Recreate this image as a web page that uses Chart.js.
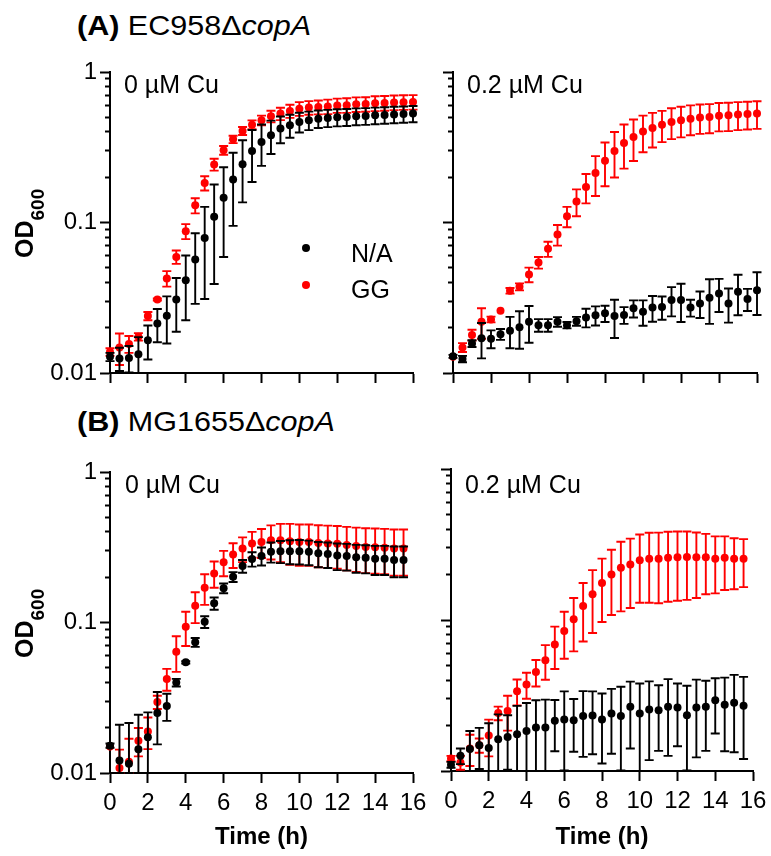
<!DOCTYPE html>
<html>
<head>
<meta charset="utf-8">
<script src="https://cdn.jsdelivr.net/npm/chart.js@4.4.1/dist/chart.umd.min.js"></script>
<style>
  html, body { margin: 0; padding: 0; background: #fff; }
  body { width: 771px; height: 856px; position: relative; overflow: hidden;
         font-family: "Liberation Sans", Arial, Helvetica, sans-serif; color: #000; }
  canvas { position: absolute; z-index: 1; }
  .txt { position: absolute; white-space: nowrap; line-height: 1; z-index: 2; }
  .title { font-size: 28px; transform: scaleX(1.09); transform-origin: 0 0; }
  .cond { font-size: 25px; }
  .ylab { font-size: 25px; font-weight: bold; transform: rotate(-90deg); transform-origin: 0 0; }
  .ylab .sub { font-size: 19px; vertical-align: -11px; }
  .dot { position: absolute; width: 8px; height: 8px; border-radius: 50%; z-index: 2; }
</style>
</head>
<body>

<div class="txt title" style="left:77px; top:11.5px;"><b>(A)</b> EC958Δ<i>copA</i></div>
<div class="txt title" style="left:77px; top:408px;"><b>(B)</b> MG1655Δ<i>copA</i></div>

<div class="txt ylab" style="left:12px; top:258px;">OD<span class="sub">600</span></div>
<div class="txt ylab" style="left:12px; top:658px;">OD<span class="sub">600</span></div>

<div class="txt cond" style="left:124px; top:72px;">0 µM Cu</div>
<div class="txt cond" style="left:467px; top:71.5px;">0.2 µM Cu</div>
<div class="txt cond" style="left:125px; top:472px;">0 µM Cu</div>
<div class="txt cond" style="left:465px; top:471.5px;">0.2 µM Cu</div>

<div id="legend"></div>

<canvas id="cA0"></canvas>
<canvas id="cA2"></canvas>
<canvas id="cB0"></canvas>
<canvas id="cB2"></canvas>

<script>
// time points (h)
const timesA = [0, 0.5, 1, 1.5, 2, 2.5, 3, 3.5, 4, 4.5, 5, 5.5, 6, 6.5, 7, 7.5, 8, 8.5, 9, 9.5, 10, 10.5, 11, 11.5, 12, 12.5, 13, 13.5, 14, 14.5, 15, 15.5, 16];
const timesB = [0, 0.5, 1, 1.5, 2, 2.5, 3, 3.5, 4, 4.5, 5, 5.5, 6, 6.5, 7, 7.5, 8, 8.5, 9, 9.5, 10, 10.5, 11, 11.5, 12, 12.5, 13, 13.5, 14, 14.5, 15, 15.5];

const seriesNames = ['N/A', 'GG'];
const seriesColors = ['#000000', '#ff0000'];

// (A) EC958 copA, 0 uM Cu
const ec0NA = [0.0128, 0.0125, 0.0126, 0.0133, 0.0165, 0.0213, 0.024, 0.0308, 0.0414, 0.0568, 0.079, 0.109, 0.146, 0.193, 0.244, 0.299, 0.343, 0.380, 0.421, 0.443, 0.466, 0.478, 0.490, 0.495, 0.500, 0.503, 0.508, 0.510, 0.515, 0.518, 0.522, 0.525, 0.529];
const ec0NAsd = [0.0008, 0.0022, 0.0025, 0.004, 0.0042, 0.0053, 0.0083, 0.012, 0.019, 0.028, 0.048, 0.07, 0.087, 0.098, 0.108, 0.113, 0.105, 0.095, 0.085, 0.077, 0.07, 0.067, 0.065, 0.065, 0.065, 0.065, 0.065, 0.065, 0.065, 0.065, 0.065, 0.065, 0.065];
const ec0GG = [0.0138, 0.0148, 0.0156, 0.0174, 0.0239, 0.0308, 0.0425, 0.0591, 0.0875, 0.130, 0.183, 0.243, 0.302, 0.357, 0.406, 0.447, 0.478, 0.508, 0.529, 0.551, 0.571, 0.58, 0.585, 0.59, 0.60, 0.602, 0.61, 0.612, 0.62, 0.623, 0.628, 0.63, 0.632];
const ec0GGsd = [0.0008, 0.0035, 0.002, 0.001, 0.0015, 0.0005, 0.005, 0.006, 0.01, 0.015, 0.02, 0.022, 0.02, 0.02, 0.025, 0.03, 0.035, 0.045, 0.05, 0.055, 0.06, 0.06, 0.062, 0.065, 0.065, 0.067, 0.068, 0.068, 0.07, 0.07, 0.07, 0.07, 0.07];

// (A) EC958 copA, 0.2 uM Cu
const ec02NA = [0.0129, 0.0124, 0.0157, 0.0170, 0.0169, 0.0181, 0.0191, 0.0201, 0.0219, 0.0208, 0.0208, 0.0219, 0.0208, 0.0221, 0.0234, 0.0242, 0.0249, 0.0239, 0.0243, 0.0269, 0.0255, 0.0272, 0.0274, 0.0305, 0.0305, 0.0272, 0.029, 0.0316, 0.0338, 0.029, 0.0346, 0.031, 0.0355];
const ec02NAsd = [0.0003, 0.0006, 0.0008, 0.0045, 0.0023, 0.0015, 0.0045, 0.0056, 0.006, 0.002, 0.002, 0.0016, 0.001, 0.0015, 0.0033, 0.0035, 0.0031, 0.0068, 0.0031, 0.0035, 0.0049, 0.0053, 0.0048, 0.0067, 0.0087, 0.0035, 0.0058, 0.0104, 0.0084, 0.0074, 0.0104, 0.0052, 0.0112];
const ec02GG = [0.0128, 0.0148, 0.0179, 0.0219, 0.0227, 0.0259, 0.0352, 0.0374, 0.0451, 0.0542, 0.0668, 0.0832, 0.110, 0.138, 0.172, 0.213, 0.257, 0.299, 0.338, 0.370, 0.403, 0.425, 0.447, 0.466, 0.478, 0.490, 0.498, 0.502, 0.513, 0.515, 0.521, 0.525, 0.529];
const ec02GGsd = [0, 0.001, 0.0015, 0.005, 0.001, 0, 0.0015, 0.002, 0.005, 0.0048, 0.0077, 0.013, 0.017, 0.028, 0.038, 0.063, 0.083, 0.10, 0.11, 0.114, 0.11, 0.11, 0.105, 0.108, 0.11, 0.11, 0.11, 0.11, 0.11, 0.11, 0.11, 0.11, 0.11];

// (B) MG1655 copA, 0 uM Cu
const mg0NA = [0.0152, 0.0121, 0.0115, 0.0144, 0.0173, 0.025, 0.0279, 0.0399, 0.0544, 0.0739, 0.101, 0.134, 0.169, 0.201, 0.237, 0.264, 0.277, 0.295, 0.298, 0.298, 0.298, 0.295, 0.288, 0.285, 0.279, 0.277, 0.271, 0.269, 0.265, 0.265, 0.260, 0.260];
const mg0NAsd = [0.0005, 0.0088, 0.01, 0.01, 0.008, 0.0095, 0.0057, 0.0023, 0.001, 0.005, 0.009, 0.0125, 0.0125, 0.015, 0.023, 0.029, 0.038, 0.045, 0.05, 0.054, 0.055, 0.055, 0.055, 0.055, 0.056, 0.056, 0.057, 0.057, 0.058, 0.058, 0.06, 0.06];
const mg0GG = [0.0150, 0.0108, 0.0119, 0.0164, 0.0189, 0.0296, 0.0422, 0.064, 0.0938, 0.129, 0.170, 0.212, 0.251, 0.283, 0.310, 0.335, 0.343, 0.352, 0.352, 0.347, 0.343, 0.343, 0.338, 0.335, 0.333, 0.327, 0.322, 0.318, 0.316, 0.314, 0.310, 0.310];
const mg0GGsd = [0, 0.0035, 0.005, 0.0035, 0.0045, 0.003, 0.007, 0.017, 0.024, 0.03, 0.039, 0.042, 0.048, 0.053, 0.058, 0.065, 0.075, 0.09, 0.1, 0.105, 0.105, 0.105, 0.105, 0.105, 0.105, 0.105, 0.105, 0.105, 0.105, 0.105, 0.105, 0.105];

// (B) MG1655 copA, 0.2 uM Cu
const mg02NA = [0.0110, 0.0126, 0.0140, 0.0148, 0.0142, 0.0162, 0.0168, 0.0175, 0.0184, 0.0194, 0.0194, 0.0215, 0.0219, 0.0217, 0.0231, 0.0233, 0.0219, 0.024, 0.0231, 0.0266, 0.024, 0.0255, 0.0253, 0.0266, 0.0263, 0.0234, 0.0263, 0.0266, 0.0294, 0.0275, 0.0283, 0.027];
const mg02NAsd = [0.0005, 0.0015, 0.0044, 0.0045, 0.0065, 0.0075, 0.0066, 0.0095, 0.0098, 0.01, 0.0103, 0.008, 0.0118, 0.0083, 0.0107, 0.0104, 0.0107, 0.011, 0.013, 0.0125, 0.014, 0.0137, 0.0117, 0.014, 0.0117, 0.0133, 0.014, 0.013, 0.0117, 0.014, 0.015, 0.015];
const mg02GG = [0.0121, 0.0114, 0.0141, 0.0148, 0.0172, 0.0242, 0.025, 0.0338, 0.0374, 0.0453, 0.0542, 0.0689, 0.0844, 0.101, 0.124, 0.148, 0.176, 0.200, 0.222, 0.233, 0.249, 0.254, 0.254, 0.258, 0.260, 0.261, 0.260, 0.260, 0.254, 0.258, 0.254, 0.254];
const mg02GGsd = [0.0005, 0.0012, 0.0033, 0.0016, 0.0047, 0.0025, 0.0065, 0.0066, 0.0073, 0.009, 0.014, 0.0215, 0.029, 0.039, 0.052, 0.066, 0.079, 0.092, 0.108, 0.113, 0.119, 0.124, 0.125, 0.126, 0.126, 0.125, 0.12, 0.112, 0.104, 0.1, 0.094, 0.089];

// axis ticks
const xTicks = [0, 2, 4, 6, 8, 10, 12, 14, 16];
const yTicks = [0.01, 0.02, 0.03, 0.04, 0.05, 0.06, 0.07, 0.08, 0.09, 0.1, 0.2, 0.3, 0.4, 0.5, 0.6, 0.7, 0.8, 0.9, 1];
const yMajor = [0.01, 0.1, 1];
const yMajorLabels = ['0.01', '0.1', '1'];

Chart.defaults.font.family = '"Liberation Sans", Arial, Helvetica, sans-serif';
Chart.defaults.font.size = 24;
Chart.defaults.color = '#000';

// mean +/- SD bars, drawn just before each dataset's dots;
// afterwards the outer half of every minor log tick is cleared so it reads shorter
const errorBars = {
    id: 'errorBars',
    beforeDatasetDraw(chart, args) {
        const ds = chart.data.datasets[args.index];
        if (!ds.sd) return;
        const ctx = chart.ctx;
        const area = chart.chartArea;
        const xs = chart.scales.x, ys = chart.scales.y;
        ctx.save();
        ctx.strokeStyle = ds.backgroundColor;
        ctx.lineWidth = 1.9;
        ds.data.forEach((p, i) => {
            const e = ds.sd[i];
            if (!e) return;
            const x = xs.getPixelForValue(p.x);
            const top = Math.max(ys.getPixelForValue(p.y + e), area.top);
            const lo = p.y - e;
            const bot = lo > 0 ? Math.min(ys.getPixelForValue(lo), area.bottom) : area.bottom;
            ctx.beginPath();
            ctx.moveTo(x, top); ctx.lineTo(x, bot);
            ctx.moveTo(x - 4.5, top); ctx.lineTo(x + 4.5, top);
            ctx.moveTo(x - 4.5, bot); ctx.lineTo(x + 4.5, bot);
            ctx.stroke();
        });
        ctx.restore();
    },
    afterDraw(chart) {
        const ys = chart.scales.y;
        const x0 = chart.chartArea.left;
        yTicks.forEach(v => {
            if (yMajor.includes(v)) return;
            const y = Math.round(ys.getPixelForValue(v));
            chart.ctx.clearRect(x0 - 13, y - 2, 8, 4);
        });
    }
};

function points(xs, ys) {
    return xs.map((x, i) => ({ x: x, y: ys[i] }));
}

function makePanel(p) {
    const ml = p.left ? 110 : 25;
    const mt = 20, mr = 20;
    const mb = p.bottom ? 856 - p.area.b : 30;
    const cv = document.getElementById(p.id);
    const w = p.area.r - p.area.l + ml + mr;
    const h = p.area.b - p.area.t + mt + mb;
    cv.width = w; cv.height = h;
    cv.style.width = w + 'px'; cv.style.height = h + 'px';
    cv.style.left = (p.area.l - ml) + 'px';
    cv.style.top = (p.area.t - mt) + 'px';

    const series = [[p.na, p.naSd], [p.gg, p.ggSd]];
    new Chart(cv, {
        type: 'scatter',
        data: {
            datasets: series.map((s, k) => ({
                label: seriesNames[k],
                data: points(p.times, s[0]),
                sd: s[1],
                backgroundColor: seriesColors[k],
                borderColor: seriesColors[k],
                pointRadius: 4,
                pointBorderWidth: 0,
                pointHoverRadius: 4,
                clip: false,
                order: k
            }))
        },
        options: {
            responsive: false,
            animation: false,
            devicePixelRatio: 1,
            events: [],
            layout: { padding: { top: mt, right: mr, left: 0, bottom: 0 } },
            plugins: { legend: { display: false }, tooltip: { enabled: false } },
            scales: {
                x: {
                    type: 'linear', min: 0, max: 16,
                    afterBuildTicks: s => { s.ticks = xTicks.map(v => ({ value: v })); },
                    afterFit: s => { s.height = mb; s.paddingLeft = 0; s.paddingRight = 0; },
                    border: { color: '#000', width: 2 },
                    grid: { drawOnChartArea: false, tickLength: 10, tickWidth: 2, tickColor: '#000' },
                    ticks: { display: p.bottom, autoSkip: false, maxRotation: 0, padding: 6, font: { size: 24 } },
                    title: { display: p.bottom, text: 'Time (h)', font: { size: 24, weight: 'bold' }, padding: { top: 0, bottom: 4 } }
                },
                y: {
                    type: 'logarithmic', min: 0.01, max: 1,
                    afterBuildTicks: s => { s.ticks = yTicks.map(v => ({ value: v })); },
                    afterFit: s => { s.width = ml; s.paddingTop = 0; s.paddingBottom = 0; },
                    border: { color: '#000', width: 2 },
                    grid: { drawOnChartArea: false, tickLength: 10, tickWidth: 2, tickColor: '#000' },
                    ticks: {
                        display: p.left, autoSkip: false, padding: 3, font: { size: 24 },
                        callback: v => { const i = yMajor.indexOf(v); return i >= 0 ? yMajorLabels[i] : ''; }
                    }
                }
            }
        },
        plugins: [errorBars]
    });
}

[
    { id: 'cA0', area: { l: 110, t: 72, r: 413, b: 373 }, times: timesA, na: ec0NA, naSd: ec0NAsd, gg: ec0GG, ggSd: ec0GGsd, left: true, bottom: false },
    { id: 'cA2', area: { l: 453, t: 72, r: 757, b: 373 }, times: timesA, na: ec02NA, naSd: ec02NAsd, gg: ec02GG, ggSd: ec02GGsd, left: false, bottom: false },
    { id: 'cB0', area: { l: 110, t: 472, r: 413, b: 773 }, times: timesB, na: mg0NA, naSd: mg0NAsd, gg: mg0GG, ggSd: mg0GGsd, left: true, bottom: true },
    { id: 'cB2', area: { l: 451, t: 469, r: 753, b: 771 }, times: timesB, na: mg02NA, naSd: mg02NAsd, gg: mg02GG, ggSd: mg02GGsd, left: false, bottom: true }
].forEach(makePanel);

// legend inside panel A (0 uM Cu)
const legend = document.getElementById('legend');
seriesNames.forEach((name, k) => {
    const cy = 248.3 + k * 36.7;
    const dot = document.createElement('div');
    dot.className = 'dot';
    dot.style.background = seriesColors[k];
    dot.style.left = (306 - 4) + 'px';
    dot.style.top = (cy - 4) + 'px';
    legend.appendChild(dot);
    const t = document.createElement('div');
    t.className = 'txt cond';
    t.textContent = name;
    t.style.left = '351px';
    t.style.top = (cy + 13.4 - 21.2) + 'px';
    legend.appendChild(t);
});
</script>
</body>
</html>
